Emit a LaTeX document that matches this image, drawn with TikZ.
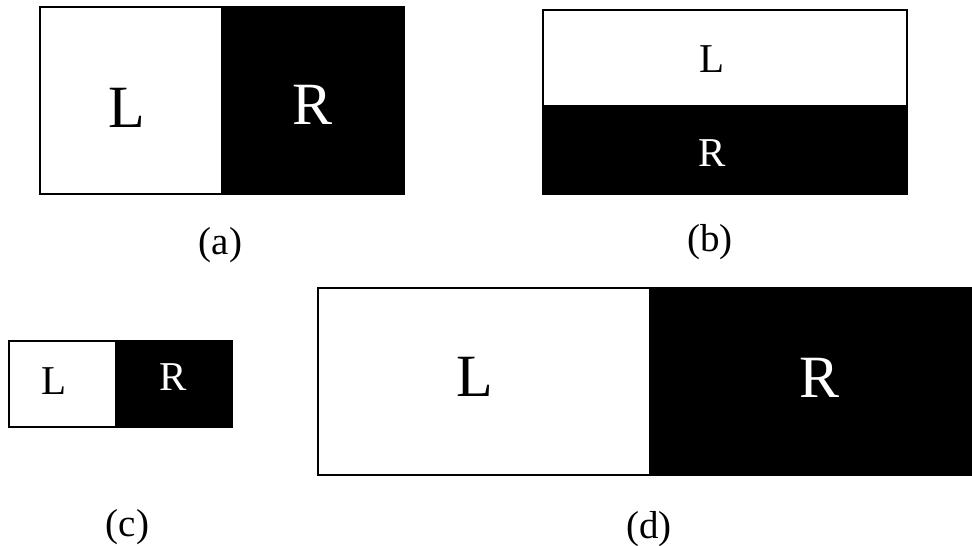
\documentclass[tikz,border=0pt]{standalone}
\usepackage{fontspec}
\setmainfont{Liberation Serif}
\usetikzlibrary{positioning}

\begin{document}
\begin{tikzpicture}[x=1pt, y=-1pt,
  frame/.style={draw, line width=1.5pt},
  letter/.style={anchor=base, inner sep=0pt},
  bigletter/.style={letter, font=\fontsize{60}{72}\selectfont},
  smallletter/.style={letter, font=\fontsize{41}{49}\selectfont},
  caption/.style={anchor=base, inner sep=0pt, font=\fontsize{39}{47}\selectfont}
]
  \useasboundingbox (0,0) rectangle (972,546);

  % (a) left/right split
  \fill (221,7) rectangle (404,194);
  \draw[frame] (40,7) rectangle (404,194);
  \node[bigletter]              (aL) at (127,127) {L};
  \node[bigletter, text=white]  (aR) at (312.5,124) {R};
  \node[caption]                (ca) at (220.5,254) {(a)};

  % (b) top/bottom split
  \fill (543,105) rectangle (907,194);
  \draw[frame] (543,10) rectangle (907,194);
  \node[smallletter]             (bL) at (712,72) {L};
  \node[smallletter, text=white] (bR) at (712,166) {R};
  \node[caption]                 (cb) at (710,251) {(b)};

  % (c) small split
  \fill (115,341) rectangle (232,427);
  \draw[frame] (9,341) rectangle (232,427);
  \node[smallletter]             (cL) at (54,394) {L};
  \node[smallletter, text=white] (cR) at (173.5,390) {R};
  \node[caption]                 (cc) at (127.5,536) {(c)};

  % (d) large split
  \fill (649,288) rectangle (972,475);
  \draw[frame] (318,288) rectangle (972,475);
  \node[bigletter]               (dL) at (475,396) {L};
  \node[bigletter, text=white]   (dR) at (819.5,397) {R};
  \node[caption]                 (cd) at (649,538) {(d)};
\end{tikzpicture}
\end{document}
